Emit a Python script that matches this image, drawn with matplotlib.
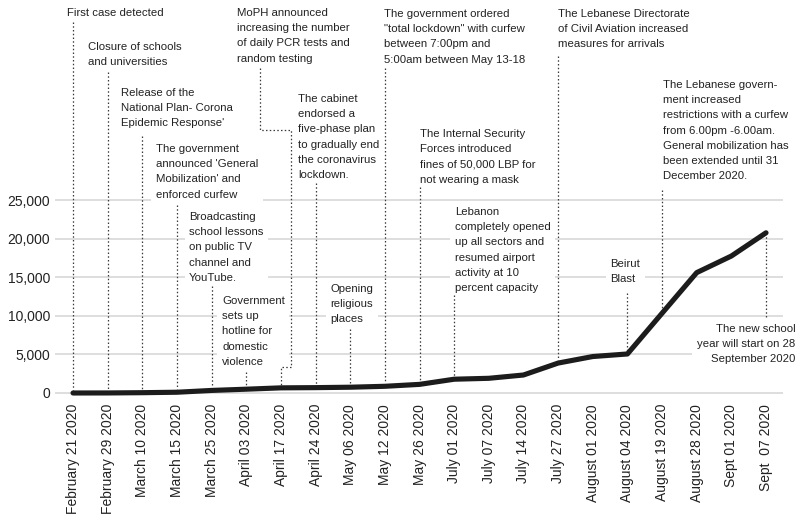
import matplotlib.pyplot as plt

plt.rcParams.update({
    "font.family": ["Liberation Sans", "DejaVu Sans"],
    "font.size": 8.2,
    "text.color": "#222222",
})

# ---- data -------------------------------------------------------------
dates = ["February 21 2020", "February 29 2020", "March 10 2020", "March 15 2020",
         "March 25 2020", "April 03 2020", "April 17 2020", "April 24 2020",
         "May 06 2020", "May 12 2020", "May 26 2020", "July 01 2020",
         "July 07 2020", "July 14 2020", "July 27 2020", "August 01 2020",
         "August 04 2020", "August 19 2020", "August 28 2020", "Sept 01 2020",
         "Sept  07 2020"]
cases = [1, 7, 41, 99, 333, 494, 668, 696, 750, 870, 1119, 1788, 1907, 2334,
         3882, 4730, 5062, 10347, 15613, 17766, 20779]
y_ticks = [0, 5000, 10000, 15000, 20000, 25000]

event_idx = [0, 1, 2, 3, 4, 5, 6, 7, 8, 9, 10, 11, 14, 16, 17, 20]
event_text = [
    "First case detected",
    "Closure of schools\nand universities",
    "Release of the\nNational Plan- Corona\nEpidemic Response'",
    "The government\nannounced 'General\nMobilization' and\nenforced curfew",
    "Broadcasting\nschool lessons\non public TV\nchannel and\nYouTube.",
    "Government\nsets up\nhotline for\ndomestic\nviolence",
    "MoPH announced\nincreasing the number\nof daily PCR tests and\nrandom testing",
    "The cabinet\nendorsed a\nfive-phase plan\nto gradually end\nthe coronavirus\nlockdown.",
    "Opening\nreligious\nplaces",
    "The government ordered\n\"total lockdown\" with curfew\nbetween 7:00pm and\n5:00am between May 13-18",
    "The Internal Security\nForces introduced\nfines of 50,000 LBP for\nnot wearing a mask",
    "Lebanon\ncompletely opened\nup all sectors and\nresumed airport\nactivity at 10\npercent capacity",
    "The Lebanese Directorate\nof Civil Aviation increased\nmeasures for arrivals",
    "Beirut\nBlast",
    "The Lebanese govern-\nment increased\nrestrictions with a curfew\nfrom 6.00pm -6.00am.\nGeneral mobilization has\nbeen extended until 31\nDecember 2020.",
    "The new school\nyear will start on 28\nSeptember 2020",
]

# ---- annotation layout (x in category units, y in case units) ---------
text_x = [-0.17, 0.43, 1.385, 2.395, 3.35, 4.30, 4.73, 6.49, 7.42, 8.975,
          10.01, 11.02, 14.0, 15.5, 17.03, 20.84]
text_top = [49935, 45525, 39560, 32300, 23480, 12580, 49935, 38780, 14140,
            49805, 34240, 24120, 49805, 17380, 40600, 8950]
lead_top = [48120, 41630, 33330, 24380, 13880, 2720, None, 27240, 8300,
            42150, 26720, 12710, 43710, 12970, 26330, None]
# bent leader for the MoPH note
moph_x = [5.40, 5.40, 6.28, 6.28, 6.0, 6.0]
moph_y = [42150, 34110, 34110, 3370, 3370, None]

px_y = 129.7  # case units per pixel
gap = 3 * px_y

fig = plt.figure(figsize=(7.98, 5.19), dpi=100)
ax = fig.add_axes([55 / 798, (519 - 398) / 519, (783 - 55) / 798, 398 / 519])
ax.set_xlim(-0.52, 20.49)
ax.set_ylim(-5 * px_y, 393 * px_y)

for s in ax.spines.values():
    s.set_visible(False)

ax.set_yticks(y_ticks)
ax.set_yticklabels([f"{v:,}" for v in y_ticks])
ax.set_xticks(range(len(dates)))
ax.set_xticklabels(dates, rotation=90, ha="center", va="top")
ax.tick_params(axis="both", length=0, labelsize=10, colors="#222222")
ax.tick_params(axis="y", pad=3.6)
ax.tick_params(axis="x", pad=4.3)
ax.yaxis.grid(True, color="#d4d4d4", linewidth=1.1, zorder=0)
ax.set_axisbelow(True)

dot = dict(color="#3a3a3a", linewidth=0.9, linestyle=(0, (1.2, 1.8)), zorder=4)

for k, i in enumerate(event_idx):
    ha = "right" if i == len(dates) - 1 else "left"
    ax.text(text_x[k], text_top[k], event_text[k], ha=ha, va="top",
            linespacing=1.65, zorder=3,
            bbox=dict(boxstyle="square,pad=0.4", fc="white", ec="none"))
    if lead_top[k] is not None:
        ax.plot([i, i], [lead_top[k], cases[i] + gap], **dot)
    elif i == 6:
        ys = moph_y[:-1] + [cases[i] + gap]
        ax.plot(moph_x, ys, **dot)
    else:
        ax.plot([i, i], [cases[i], text_top[k] + 6 * px_y], **dot)

ax.plot(range(len(dates)), cases, color="#1c1c1c", linewidth=3.7,
        solid_capstyle="round", solid_joinstyle="round", zorder=5, clip_on=False)

fig.savefig("out.png", dpi=100)
